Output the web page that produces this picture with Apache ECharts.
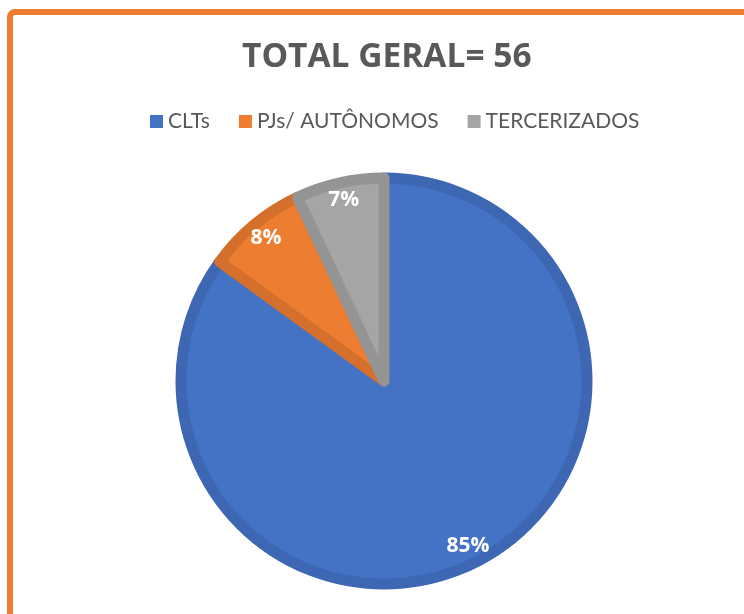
<!DOCTYPE html>
<html>
<head>
<meta charset="utf-8">
<script src="https://cdn.jsdelivr.net/npm/echarts@6/dist/echarts.min.js"></script>
<style>
  html, body { margin: 0; padding: 0; background: #fff; }
  #chart { width: 744px; height: 614px; }
</style>
</head>
<body>
<div id="chart"></div>
<script>
// dados do gráfico
var categorias = ["CLTs", "PJs/ AUTÔNOMOS", "TERCERIZADOS"];
var valores = [85, 8, 7];
var cores = ["#4472C4", "#ED7D31", "#A5A5A5"];
var coresBorda = ["#3D67B3", "#D4702C", "#949494"];
var titulo = "TOTAL GERAL= 56";

var myChart = echarts.init(document.getElementById("chart"));

var dadosPizza = categorias.map(function (nome, i) {
  return {
    name: nome,
    value: valores[i],
    itemStyle: { color: cores[i], borderColor: coresBorda[i] }
  };
});
// série só para os rótulos (perto da borda, como no Excel)
var dadosRotulo = categorias.map(function (nome, i) {
  return { name: nome, value: valores[i] };
});

var option = {
  backgroundColor: "#fff",
  animation: false,
  title: {
    text: titulo,
    left: 237,
    top: 35,
    textStyle: {
      fontFamily: "Open Sans",
      fontWeight: "bold",
      fontSize: 33.5,
      color: "#595959"
    }
  },
  legend: {
    data: categorias,
    top: 106,
    left: 145,
    itemWidth: 13,
    itemHeight: 13,
    itemGap: 29,
    icon: "rect",
    itemStyle: { borderWidth: 0 },
    textStyle: {
      fontFamily: "Lato",
      fontSize: 21,
      color: "#595959"
    }
  },
  graphic: [
    {
      type: "rect",
      shape: { x: 10, y: 12, width: 800, height: 700, r: 5 },
      style: { fill: "none", stroke: "#ED7D31", lineWidth: 6 },
      silent: true
    }
  ],
  series: [
    {
      type: "pie",
      center: [384, 381],
      radius: [0, 203],
      startAngle: 90,
      clockwise: true,
      label: { show: false },
      labelLine: { show: false },
      itemStyle: { borderWidth: 11 },
      emphasis: { disabled: true },
      data: dadosPizza
    },
    {
      type: "pie",
      center: [384, 381],
      radius: [154, 210],
      startAngle: 90,
      clockwise: true,
      silent: true,
      itemStyle: { color: "rgba(0,0,0,0)", borderWidth: 0 },
      label: {
        show: true,
        position: "inside",
        formatter: "{c}%",
        fontFamily: "Open Sans",
        fontWeight: "bold",
        fontSize: 21,
        color: "#fff"
      },
      labelLine: { show: false },
      emphasis: { disabled: true },
      data: dadosRotulo
    }
  ]
};
myChart.setOption(option);
</script>
</body>
</html>
